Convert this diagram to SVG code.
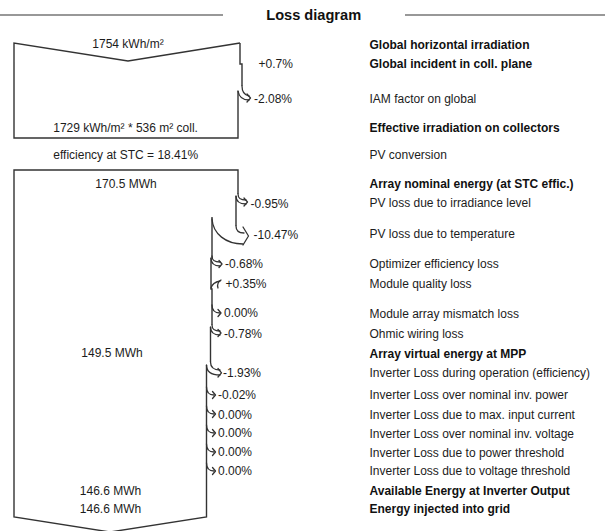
<svg xmlns="http://www.w3.org/2000/svg" width="605" height="531" viewBox="0 0 605 531">
  <style>
    .t { font-family: "Liberation Sans", Arial, sans-serif; font-size: 12px; fill: #1c1c1c; }
    .b { font-weight: bold; fill: #111; }
    .m { text-anchor: middle; }
    .title { font-family: "Liberation Sans", Arial, sans-serif; font-size: 14.6px; font-weight: bold; fill: #111; text-anchor: middle; }
    .ln { fill: none; stroke: #333; stroke-width: 1.4; stroke-linejoin: miter; }
    .ar { fill: none; stroke: #333; stroke-width: 1.3; stroke-linecap: round; stroke-linejoin: round; }
  </style>
  <rect width="605" height="531" fill="#ffffff"/>

  <g id="title">
    <line x1="0" y1="15" x2="223" y2="15" stroke="#333" stroke-width="1.2"/>
    <line x1="405" y1="15" x2="605" y2="15" stroke="#333" stroke-width="1.2"/>
    <text class="title" x="313.7" y="20.2">Loss diagram</text>
  </g>

  <g id="box-irradiation">
    <path class="ln" d="M240,43 L128,61 L14,43 L14,138 L238,138 L238,91"/>
    <path class="ln" d="M240,43 L240,64 L242,64 L242,86"/>
    <text class="t m" x="128" y="47.8">1754 kWh/m²</text>
    <text class="t m" x="125.6" y="132">1729 kWh/m² * 536 m² coll.</text>
  </g>

  <g id="conversion">
    <text class="t m" x="125.7" y="159.3">efficiency at STC = 18.41%</text>
  </g>

  <g id="box-energy">
    <path class="ln" d="M238,194 L238,170 L14,170 L14,517 L110,532 L206.5,517 L206.5,365"/>
    <path class="ln" d="M236,196 L236,226"/>
    <path class="ln" d="M212,217 L212,258"/>
    <path class="ln" d="M211,258 L211,289 L212,289 L212,325"/>
    <path class="ln" d="M210.5,327 L210.5,362"/>
    <text class="t m" x="126" y="187.8">170.5 MWh</text>
    <text class="t m" x="112" y="357.3">149.5 MWh</text>
    <text class="t m" x="110.5" y="495">146.6 MWh</text>
    <text class="t m" x="110.5" y="513.3">146.6 MWh</text>
  </g>

  <g id="connectors">
    <!-- IAM -2.08% -->
    <path class="ar" d="M242,86 C242,92 244,95 249,96"/>
    <path class="ar" d="M238,91 C239,97 243,100 249,100"/>
    <path class="ar" d="M247,94 L250.5,98 L247,102"/>
    <!-- -0.95% -->
    <path class="ar" d="M238,194 C238,199 241,200 246,200"/>
    <path class="ar" d="M236,196 C236,202 240,204 246,204"/>
    <path class="ar" d="M244,198 L247.5,202 L244,206"/>
    <!-- -10.47% -->
    <path class="ar" d="M236,226 C236,231 239,233 244,233"/>
    <path class="ar" d="M212,219 C213,234 226,244 243,244"/>
    <path class="ar" d="M243,227 L248.5,236 L243,245"/>
    <!-- -0.68% -->
    <path class="ar" d="M212,256 C212,261 215,262 220,262"/>
    <path class="ar" d="M211,258 C211,264 215,266 220,266"/>
    <path class="ar" d="M219,260.5 L222,264 L219,267.5"/>
    <!-- +0.35% gain -->
    <path class="ar" d="M211,288 C212,284 215,282 220,281"/>
    <path class="ar" d="M221,280 C218,282 217,285 218,288"/>
    <!-- 0.00% mismatch -->
    <path class="ar" d="M212,305 C212,311 215,313 220,313"/>
    <path class="ar" d="M218,309.5 L221,313 L218,316.5"/>
    <!-- -0.78% -->
    <path class="ar" d="M212,325 C212,330 215,331 220,331"/>
    <path class="ar" d="M210.5,327 C210.5,333 214,335 220,335"/>
    <path class="ar" d="M218,329.5 L221,333 L218,336.5"/>
    <!-- -1.93% -->
    <path class="ar" d="M210.5,362 C210.5,368 214,370 220,370"/>
    <path class="ar" d="M206.5,365 C206.5,372 212,375 220,375"/>
    <path class="ar" d="M218,368.5 L221.5,372.8 L218,377"/>
    <!-- -0.02% -->
    <path class="ar" d="M206.5,387 C206.5,393 209,395 214,395"/>
    <path class="ar" d="M212.5,391.5 L215.5,395 L212.5,398.5"/>
    <!-- 0.00% x4 -->
    <path class="ar" d="M206.5,406 C206.5,412 209,414 214,414"/>
    <path class="ar" d="M212.5,410.5 L215.5,414 L212.5,417.5"/>
    <path class="ar" d="M206.5,425 C206.5,431 209,433 214,433"/>
    <path class="ar" d="M212.5,429.5 L215.5,433 L212.5,436.5"/>
    <path class="ar" d="M206.5,444 C206.5,450 209,452 214,452"/>
    <path class="ar" d="M212.5,448.5 L215.5,452 L212.5,455.5"/>
    <path class="ar" d="M206.5,463 C206.5,469 209,471 214,471"/>
    <path class="ar" d="M212.5,467.5 L215.5,471 L212.5,474.5"/>
  </g>

  <g id="percentages">
    <text class="t" x="258.5" y="67.8">+0.7%</text>
    <text class="t" x="254" y="102.8">-2.08%</text>
    <text class="t" x="250.5" y="207.6">-0.95%</text>
    <text class="t" x="253.5" y="238.6">-10.47%</text>
    <text class="t" x="225" y="268.3">-0.68%</text>
    <text class="t" x="225.5" y="288.3">+0.35%</text>
    <text class="t" x="224" y="317.3">0.00%</text>
    <text class="t" x="224" y="337.6">-0.78%</text>
    <text class="t" x="223" y="377">-1.93%</text>
    <text class="t" x="218" y="399.3">-0.02%</text>
    <text class="t" x="218" y="418.6">0.00%</text>
    <text class="t" x="218" y="437.3">0.00%</text>
    <text class="t" x="218" y="456.3">0.00%</text>
    <text class="t" x="218" y="475.3">0.00%</text>
  </g>

  <g id="labels">
    <text class="t b" x="369.5" y="48.8">Global horizontal irradiation</text>
    <text class="t b" x="369.5" y="67.8">Global incident in coll. plane</text>
    <text class="t" x="369.5" y="102.8">IAM factor on global</text>
    <text class="t b" x="369.5" y="132">Effective irradiation on collectors</text>
    <text class="t" x="369.5" y="159.3">PV conversion</text>
    <text class="t b" x="369.5" y="187.8">Array nominal energy (at STC effic.)</text>
    <text class="t" x="369.5" y="207.3">PV loss due to irradiance level</text>
    <text class="t" x="369.5" y="238.3">PV loss due to temperature</text>
    <text class="t" x="369.5" y="267.8">Optimizer efficiency loss</text>
    <text class="t" x="369.5" y="288.3">Module quality loss</text>
    <text class="t" x="369.5" y="317.6">Module array mismatch loss</text>
    <text class="t" x="369.5" y="337.6">Ohmic wiring loss</text>
    <text class="t b" x="369.5" y="357.6">Array virtual energy at MPP</text>
    <text class="t" x="369.5" y="377">Inverter Loss during operation (efficiency)</text>
    <text class="t" x="369.5" y="399.3">Inverter Loss over nominal inv. power</text>
    <text class="t" x="369.5" y="418.6">Inverter Loss due to max. input current</text>
    <text class="t" x="369.5" y="437.6">Inverter Loss over nominal inv. voltage</text>
    <text class="t" x="369.5" y="456.6">Inverter Loss due to power threshold</text>
    <text class="t" x="369.5" y="475.3">Inverter Loss due to voltage threshold</text>
    <text class="t b" x="369.5" y="494.6">Available Energy at Inverter Output</text>
    <text class="t b" x="369.5" y="513.3">Energy injected into grid</text>
  </g>
</svg>
